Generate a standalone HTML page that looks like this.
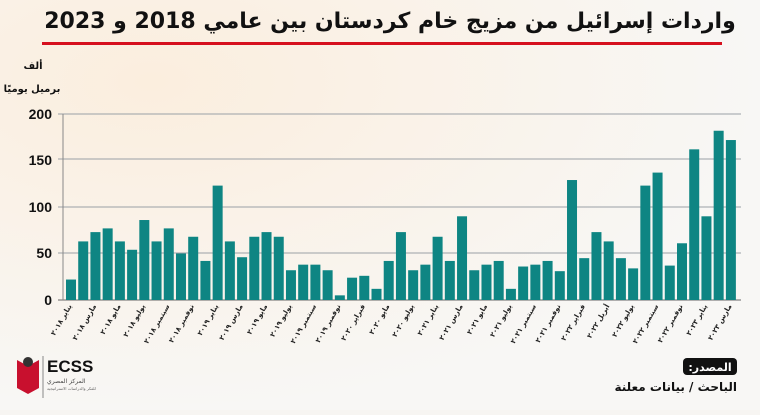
<!DOCTYPE html>
<html><head><meta charset="utf-8"><style>
body{margin:0;width:760px;height:410px;overflow:hidden;background:#f7f5f2;font-family:"Liberation Sans","DejaVu Sans",sans-serif;}
</style></head><body>
<svg width="760" height="410" xmlns="http://www.w3.org/2000/svg">
<defs><radialGradient id="bg" cx="0.2" cy="0.2" r="0.8"><stop offset="0" stop-color="#fbeede"/><stop offset="1" stop-color="#f8f7f5"/></radialGradient></defs>
<rect width="760" height="410" fill="url(#bg)"/>
<text x="390" y="28" text-anchor="middle" font-size="22" font-weight="bold" fill="#111" font-family="'DejaVu Sans',sans-serif">واردات إسرائيل من مزيج خام كردستان بين عامي 2018 و 2023</text>
<rect x="42" y="42" width="680" height="3" fill="#d6101e"/>
<text x="33" y="69" text-anchor="middle" font-size="10" font-weight="bold" fill="#111" font-family="'DejaVu Sans',sans-serif">ألف</text>
<text x="32" y="92" text-anchor="middle" font-size="10" font-weight="bold" fill="#111" font-family="'DejaVu Sans',sans-serif">برميل يوميًا</text>
<g stroke="#9aa0a6" stroke-width="1">
<line x1="58" y1="114" x2="741" y2="114"/><line x1="58" y1="159" x2="741" y2="159"/><line x1="58" y1="207" x2="741" y2="207"/><line x1="58" y1="253" x2="741" y2="253"/>
<line x1="58" y1="300" x2="741" y2="300" stroke="#666"/><line x1="63" y1="114" x2="63" y2="300" stroke="#888"/>
</g>
<g font-size="14" font-weight="bold" fill="#111" text-anchor="end">
<text x="52" y="119">200</text><text x="52" y="165">150</text><text x="52" y="212">100</text><text x="52" y="258">50</text><text x="52" y="305">0</text>
</g>
<g id="bars" fill="#0e8583"></g>
<g id="labels" font-size="7" font-weight="bold" fill="#222" font-family="'DejaVu Sans',sans-serif"></g>
<rect x="683" y="358" width="54" height="17" rx="4" fill="#111"/>
<text x="710" y="371" text-anchor="middle" direction="rtl" font-size="11" font-weight="bold" fill="#fff" font-family="'DejaVu Sans',sans-serif">المصدر:</text>
<text x="737" y="391" text-anchor="end" font-size="12" font-weight="bold" fill="#111" font-family="'DejaVu Sans',sans-serif">الباحث / بيانات معلنة</text>
<g>
<path d="M17 360 L17 388 L28 394 L28 366 Z" fill="#c8102e"/><path d="M39 360 L39 388 L28 394 L28 366 Z" fill="#c8102e"/>
<circle cx="28" cy="362" r="5" fill="#333"/>
<line x1="43" y1="356" x2="43" y2="398" stroke="#888"/>
<text x="47" y="372" font-size="17" font-weight="bold" fill="#111">ECSS</text>
<text x="47" y="383" font-size="6" fill="#444" font-family="'DejaVu Sans',sans-serif">المركز المصري</text>
<text x="47" y="390" font-size="4" fill="#666" font-family="'DejaVu Sans',sans-serif">للفكر والدراسات الاستراتيجية</text>
</g>
</svg>
<script>
var v=[22,63,73,77,63,54,86,63,77,50,68,42,123,63,46,68,73,68,32,38,38,32,5,24,26,12,42,73,32,38,68,42,90,32,38,42,12,36,38,42,31,129,45,73,63,45,34,123,137,37,61,162,90,182,172];
var L=["يناير ٢٠١٨","مارس ٢٠١٨","مايو ٢٠١٨","يوليو ٢٠١٨","سبتمبر ٢٠١٨","نوفمبر ٢٠١٨","يناير ٢٠١٩","مارس ٢٠١٩","مايو ٢٠١٩","يوليو ٢٠١٩","سبتمبر ٢٠١٩","نوفمبر ٢٠١٩","فبراير ٢٠٢٠","مايو ٢٠٢٠","يوليو ٢٠٢٠","يناير ٢٠٢١","مارس ٢٠٢١","مايو ٢٠٢١","يوليو ٢٠٢١","سبتمبر ٢٠٢١","نوفمبر ٢٠٢١","فبراير ٢٠٢٢","أبريل ٢٠٢٢","يوليو ٢٠٢٢","سبتمبر ٢٠٢٢","نوفمبر ٢٠٢٢","يناير ٢٠٢٣","مارس ٢٠٢٣"];
var ns="http://www.w3.org/2000/svg",b=document.getElementById("bars"),g=document.getElementById("labels");
v.forEach(function(d,i){var x=66+i*12.22,h=d*0.93;var r=document.createElementNS(ns,"rect");r.setAttribute("x",x);r.setAttribute("y",300-h);r.setAttribute("width",10);r.setAttribute("height",h);b.appendChild(r);
if(i%2==0&&L[i/2]){var t=document.createElementNS(ns,"text");var cx=x+6,cy=306;t.setAttribute("x",cx);t.setAttribute("y",cy);t.setAttribute("text-anchor","end");t.setAttribute("transform","rotate(-60 "+cx+" "+cy+")");t.textContent=L[i/2];g.appendChild(t);}});
</script>
</body></html>
